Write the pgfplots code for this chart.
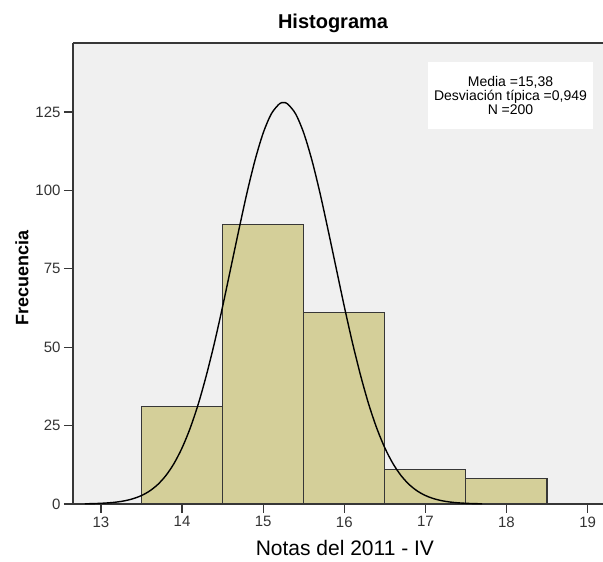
\documentclass[border=0pt]{standalone}
\usepackage{pgfplots}
\pgfplotsset{compat=1.18}
\usepackage{fontspec}
\setmainfont{Liberation Sans}
\definecolor{barfill}{RGB}{212,207,153}
\definecolor{bgc}{RGB}{240,240,240}
\definecolor{edge}{RGB}{55,55,55}
\begin{document}
\begin{tikzpicture}
\useasboundingbox (-73pt,-58pt) rectangle (530pt,504pt);
\begin{axis}[
  at={(0,0)}, anchor=south west,
  scale only axis, width=530pt, height=461pt,
  xmin=12.655, xmax=19.19, ymin=0, ymax=147,
  axis x line*=bottom, axis y line*=left,
  axis line style={draw=edge, line width=1.6pt, -},
  axis background/.style={fill=bgc},
  xtick={13,14,15,16,17,18,19},
  ytick={0,25,50,75,100,125},
  tick align=outside, major tick length=9pt,
  tick style={draw=edge, line width=1.3pt},
  minor tick num=0,
  /pgf/number format/assume math mode=true,
  ticklabel style={font=\fontsize{15}{15}\selectfont, text=black!80},
  clip=false,
]
\draw[edge, line width=1.6pt] (rel axis cs:0,1) -- (rel axis cs:1.02,1);
\addplot[ybar interval, fill=barfill, draw=edge, line width=1.1pt]
  coordinates {(13.5,31) (14.5,89) (15.5,61) (16.5,11) (17.5,8) (18.5,8)};
\addplot[black, line width=1.4pt, smooth, mark=none] coordinates {
(12.8,0.07) (12.9,0.12) (13.0,0.22) (13.1,0.38) (13.2,0.64) (13.3,1.06)
(13.4,1.72) (13.5,2.70) (13.6,4.15) (13.7,6.21) (13.8,9.06) (13.9,12.9)
(14.0,17.9) (14.1,24.2) (14.2,31.9) (14.3,41.1) (14.4,51.5) (14.5,63.0)
(14.6,75.2) (14.7,87.4) (14.8,99.2) (14.9,109.7) (15.0,118.3) (15.1,124.4)
(15.2,127.6) (15.25,128.0) (15.3,127.6) (15.4,124.4) (15.5,118.3) (15.6,109.7)
(15.7,99.2) (15.8,87.4) (15.9,75.2) (16.0,63.0) (16.1,51.5) (16.2,41.1)
(16.3,31.9) (16.4,24.2) (16.5,17.9) (16.6,12.9) (16.7,9.06) (16.8,6.21)
(16.9,4.15) (17.0,2.70) (17.1,1.72) (17.2,1.06) (17.3,0.64) (17.4,0.38)
(17.5,0.22) (17.6,0.12) (17.7,0.07)};
\node[fill=white, minimum width=165pt, minimum height=67pt, inner sep=0pt,
  align=center, font=\fontsize{14}{14}\selectfont]
  at (axis description cs:0.8255,0.886)
  {Media =15,38\\Desviación típica =0,949\\N =200};
\node[anchor=base, font=\fontsize{20}{20}\selectfont\bfseries]
  at (axis description cs:0.4906,1.0308) {Histograma};
\node[anchor=base, font=\fontsize{21}{21}\selectfont]
  at (axis description cs:0.513,-0.1128) {Notas del 2011 - IV};
\node[rotate=90, anchor=center, font=\fontsize{18}{18}\selectfont\bfseries]
  at (axis description cs:-0.0962,0.49) {Frecuencia};
\end{axis}
\end{tikzpicture}
\end{document}
